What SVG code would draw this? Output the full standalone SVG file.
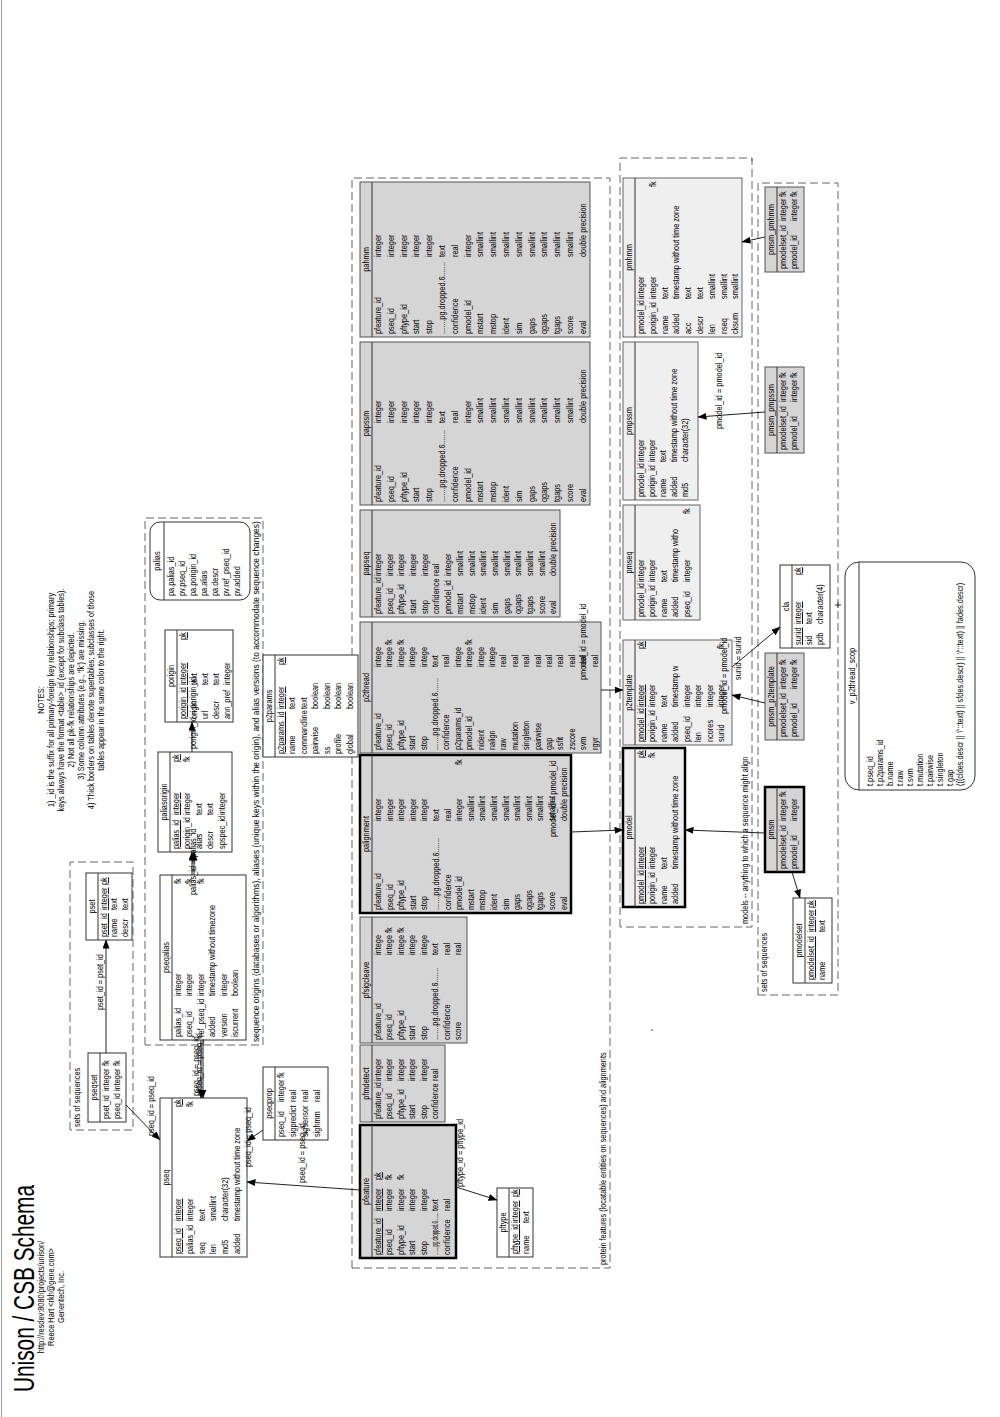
<svg xmlns="http://www.w3.org/2000/svg" width="1000" height="1417" viewBox="0 0 1000 1417">
<defs>
<marker id="ah" markerWidth="9" markerHeight="7" refX="8.5" refY="3.5" orient="auto" markerUnits="userSpaceOnUse"><path d="M0,0 L9,3.5 L0,7 z" fill="#000"/></marker>
<style>
.root{font-family:"Liberation Sans",Arial,sans-serif;font-size:9.2px;fill:#000}
.w{fill:#fff;stroke:#333;stroke-width:1}
.g{fill:#d5d5d5;stroke:#555;stroke-width:1}
.l{fill:#efefef;stroke:#666;stroke-width:1}
.k{stroke:#000;stroke-width:2.5}
.sep{stroke:#333;stroke-width:1}
.grp{fill:none;stroke:#666;stroke-width:1;stroke-dasharray:8 4}
.c{fill:none;stroke:#222;stroke-width:1;marker-end:url(#ah)}
.hd{text-anchor:middle}
.u{text-decoration:underline}
</style>
</defs>
<rect width="1000" height="1417" fill="#fff"/>
<line x1="1.5" y1="0" x2="1.5" y2="1417" stroke="#999"/>
<g class="root" transform="translate(0,1417) rotate(-90)">

<!-- title & notes -->
<g id="title">
<text x="25" y="34" font-size="29" textLength="207" lengthAdjust="spacingAndGlyphs">Unison / CSB Schema</text>
<g transform="scale(0.8,1)" class="hd">
<text x="150" y="44">http://resdev:8080/projects/unison/</text>
<text x="150" y="54">Reece Hart &lt;rkh@gene.com&gt;</text>
<text x="150" y="64">Genentech, Inc.</text>
</g>
</g>
<g id="notes" transform="scale(0.8,1)" class="hd">
<text x="896.25" y="44">NOTES:</text>
<text x="896.25" y="54">1) _id is the suffix for all primary-foreign key relationships; primary</text>
<text x="896.25" y="64">keys always have the format &lt;table&gt;_id (except for subclass tables).</text>
<text x="896.25" y="74">2) Not all pk-fk relationships are depicted.</text>
<text x="896.25" y="84">3) Some column attributes (e.g., 'fk') are missing.</text>
<text x="896.25" y="94">4) Thick borders on tables denote supertables; subclasses of those</text>
<text x="896.25" y="104">tables appear in the same color to the right.</text>
</g>

<!-- groups -->
<g id="groups">
<rect class="grp" x="287" y="70" width="268" height="63"/>
<rect class="grp" x="372" y="145" width="527" height="118"/>
<rect class="grp" x="149" y="352" width="1090" height="258"/>
<rect class="grp" x="490" y="620" width="769" height="132"/>
<rect class="grp" x="422" y="758" width="812" height="80"/>
<g transform="scale(0.8,1)">
<text x="362.5" y="80">sets of sequences</text>
<text x="468.75" y="259" textLength="651" lengthAdjust="spacingAndGlyphs">sequence origins (databases or algorithms), aliases (unique keys within the origin), and alias versions (to accommodate sequence changes)</text>
<text x="190" y="606">protein features (locatable entities on sequences) and alignments</text>
<text x="616.25" y="748">models -- anything to which a sequence might align</text>
<text x="531.25" y="767">sets of sequences</text>
</g>
<path d="M809,838 H815 M812,835 V841" stroke="#333" fill="none"/>
<circle cx="1257" cy="752" r="0.8" fill="#333"/>
<circle cx="387" cy="652" r="0.8" fill="#333"/>
</g>

<!-- tables -->
<g id="pseq" transform="translate(160,160)"><rect class="w" width="159" height="87"/><line class="sep" x1="0" y1="12" x2="159" y2="12"/><g transform="scale(0.8,1)">
<text class="hd" x="99.4" y="9.5">pseq</text>
<text y="21"><tspan x="3.75" class="u">pseq_id</tspan><tspan x="45" class="u">integer</tspan><tspan x="187.5" class="u">pk</tspan></text>
<text y="32.8"><tspan x="3.75">palias_id</tspan><tspan x="45">integer</tspan><tspan x="187.5">fk</tspan></text>
<text y="44.6"><tspan x="3.75">seq</tspan><tspan x="45">text</tspan></text>
<text y="56.4"><tspan x="3.75">len</tspan><tspan x="45">smallint</tspan></text>
<text y="68.2"><tspan x="3.75">md5</tspan><tspan x="45">character(32)</tspan></text>
<text y="80"><tspan x="3.75">added</tspan><tspan x="45">timestamp without time zone</tspan></text>
</g></g>

<g id="pseqprop" transform="translate(277,263)"><rect class="w" width="73" height="65"/><line class="sep" x1="0" y1="12" x2="73" y2="12"/><g transform="scale(0.8,1)">
<text class="hd" x="45.6" y="9.5">pseqprop</text>
<text y="21"><tspan x="3.75">pseq_id</tspan><tspan x="47.5">integer</tspan><tspan x="77.5">fk</tspan></text>
<text y="33"><tspan x="3.75">sigpredict</tspan><tspan x="47.5">real</tspan></text>
<text y="45"><tspan x="3.75">sigsensor</tspan><tspan x="47.5">real</tspan></text>
<text y="57"><tspan x="3.75">sighmm</tspan><tspan x="47.5">real</tspan></text>
</g></g>

<g id="pseqset" transform="translate(295,88)"><rect class="w" width="69" height="38"/><line class="sep" x1="0" y1="12" x2="69" y2="12"/><g transform="scale(0.8,1)">
<text class="hd" x="43.1" y="9.5">pseqset</text>
<text y="21"><tspan x="3.75">pset_id</tspan><tspan x="38.75">integer</tspan><tspan x="70">fk</tspan></text>
<text y="32.5"><tspan x="3.75">pseq_id</tspan><tspan x="38.75">integer</tspan><tspan x="70">fk</tspan></text>
</g></g>

<g id="pset" transform="translate(477,86)"><rect class="w" width="67" height="46"/><line class="sep" x1="0" y1="12" x2="67" y2="12"/><g transform="scale(0.8,1)">
<text class="hd" x="41.9" y="9.5">pset</text>
<text y="21"><tspan x="3.75" class="u">pset_id</tspan><tspan x="37.5" class="u">integer</tspan><tspan x="68.75" class="u">pk</tspan></text>
<text y="31.5"><tspan x="3.75">name</tspan><tspan x="37.5">text</tspan></text>
<text y="42"><tspan x="3.75">descr</tspan><tspan x="37.5">text</tspan></text>
</g></g>

<g id="pseqalias" transform="translate(377,160)"><rect class="w" width="165" height="86"/><line class="sep" x1="0" y1="12" x2="165" y2="12"/><g transform="scale(0.8,1)">
<text class="hd" x="103.1" y="9.5">pseqalias</text>
<text y="21"><tspan x="3.75">palias_id</tspan><tspan x="55">integer</tspan><tspan x="195">fk</tspan></text>
<text y="32.5"><tspan x="3.75">pseq_id</tspan><tspan x="55">integer</tspan><tspan x="195">fk</tspan></text>
<text y="44"><tspan x="3.75">ref_pseq_id</tspan><tspan x="55">integer</tspan><tspan x="195">fk</tspan></text>
<text y="55.5"><tspan x="3.75">added</tspan><tspan x="55">timestamp without timezone</tspan></text>
<text y="67"><tspan x="3.75">version</tspan><tspan x="55">integer</tspan></text>
<text y="78.5"><tspan x="3.75">iscurrent</tspan><tspan x="55">boolean</tspan></text>
</g></g>

<g id="paliasorigin" transform="translate(565,158)"><rect class="w" width="100" height="74"/><line class="sep" x1="0" y1="12" x2="100" y2="12"/><g transform="scale(0.8,1)">
<text class="hd" x="62.5" y="9.5">paliasorigin</text>
<text y="21"><tspan x="3.75" class="u">palias_id</tspan><tspan x="46.25" class="u">integer</tspan><tspan x="112.5" class="u">pk</tspan></text>
<text y="32.5"><tspan x="3.75">porigin_id</tspan><tspan x="46.25">integer</tspan><tspan x="112.5">fk</tspan></text>
<text y="44"><tspan x="3.75">alias</tspan><tspan x="46.25">text</tspan></text>
<text y="55.5"><tspan x="3.75">descr</tspan><tspan x="46.25">text</tspan></text>
<text y="67"><tspan x="3.75">spspec_id</tspan><tspan x="46.25">integer</tspan></text>
</g></g>

<g id="porigin" transform="translate(695,165)"><rect class="w" width="92" height="68"/><line class="sep" x1="0" y1="12" x2="92" y2="12"/><g transform="scale(0.8,1)">
<text class="hd" x="57.5" y="9.5">porigin</text>
<text y="21"><tspan x="3.75" class="u">porigin_id</tspan><tspan x="46.25" class="u">integer</tspan><tspan x="102.5" class="u">pk</tspan></text>
<text y="32"><tspan x="3.75">origin</tspan><tspan x="46.25">text</tspan></text>
<text y="43"><tspan x="3.75">url</tspan><tspan x="46.25">text</tspan></text>
<text y="54"><tspan x="3.75">descr</tspan><tspan x="46.25">text</tspan></text>
<text y="65"><tspan x="3.75">ann_pref</tspan><tspan x="46.25">integer</tspan></text>
</g></g>

<g id="palias" transform="translate(817,150)"><rect class="w" width="78" height="100" rx="10"/><line class="sep" x1="0" y1="14" x2="78" y2="14"/><g transform="scale(0.8,1)">
<text class="hd" x="48.75" y="10.5">palias</text>
<text x="5" y="24">pa.palias_id</text>
<text x="5" y="35">pv.pseq_id</text>
<text x="5" y="46">pa.porigin_id</text>
<text x="5" y="57">pa.alias</text>
<text x="5" y="68">pa.descr</text>
<text x="5" y="79">pv.ref_pseq_id</text>
<text x="5" y="90">pv.added</text>
</g></g>

<g id="p2params" transform="translate(660,263)"><rect class="w" width="102" height="95"/><line class="sep" x1="0" y1="12" x2="102" y2="12"/><g transform="scale(0.8,1)">
<text class="hd" x="63.75" y="9.5">p2params</text>
<text y="21"><tspan x="3.75" class="u">p2params_id</tspan><tspan x="60" class="u">integer</tspan><tspan x="115" class="u">pk</tspan></text>
<text y="32.5"><tspan x="3.75">name</tspan><tspan x="60">text</tspan></text>
<text y="44"><tspan x="3.75">commandline</tspan><tspan x="60">text</tspan></text>
<text y="55.5"><tspan x="3.75">pairwise</tspan><tspan x="60">boolean</tspan></text>
<text y="67"><tspan x="3.75">ss</tspan><tspan x="60">boolean</tspan></text>
<text y="78.5"><tspan x="3.75">profile</tspan><tspan x="60">boolean</tspan></text>
<text y="90"><tspan x="3.75">global</tspan><tspan x="60">boolean</tspan></text>
</g></g>

<g id="pfeature" transform="translate(159,360)"><rect class="g k" width="133" height="96"/><line class="sep" x1="0" y1="12" x2="133" y2="12"/><g transform="scale(0.8,1)">
<text class="hd" x="83.1" y="9.5">pfeature</text>
<text y="21"><tspan x="3.75" class="u">pfeature_id</tspan><tspan x="58.75" class="u">integer</tspan><tspan x="97.5" class="u">pk</tspan></text>
<text y="32.5"><tspan x="3.75">pseq_id</tspan><tspan x="58.75">integer</tspan><tspan x="97.5">fk</tspan></text>
<text y="44"><tspan x="3.75">pftype_id</tspan><tspan x="58.75">integer</tspan><tspan x="97.5">fk</tspan></text>
<text y="55.5"><tspan x="3.75">start</tspan><tspan x="58.75">integer</tspan></text>
<text y="67"><tspan x="3.75">stop</tspan><tspan x="58.75">integer</tspan></text>
<text x="3.75" y="78.5" textLength="53" lengthAdjust="spacingAndGlyphs">.......pg.dropped.6.......</text><text x="58.75" y="78.5">text</text>
<text y="90"><tspan x="3.75">confidence</tspan><tspan x="58.75">real</tspan></text>
</g></g>

<g id="pftype" transform="translate(160,497)"><rect class="w" width="69" height="36"/><line class="sep" x1="0" y1="12" x2="69" y2="12"/><g transform="scale(0.8,1)">
<text class="hd" x="43.1" y="9.5">pftype</text>
<text y="21"><tspan x="3.75" class="u">pftype_id</tspan><tspan x="42.5" class="u">integer</tspan><tspan x="75" class="u">pk</tspan></text>
<text y="32"><tspan x="3.75">name</tspan><tspan x="42.5">text</tspan></text>
</g></g>

<g id="pfmdetect" transform="translate(295,360)"><rect class="g" width="77" height="85"/><line class="sep" x1="0" y1="12" x2="77" y2="12"/><g transform="scale(0.8,1)">
<text class="hd" x="48.1" y="9.5">pfmdetect</text>
<text y="21"><tspan x="3.75">pfeature_id</tspan><tspan x="51.25">integer</tspan></text>
<text y="32.5"><tspan x="3.75">pseq_id</tspan><tspan x="51.25">integer</tspan></text>
<text y="44"><tspan x="3.75">pftype_id</tspan><tspan x="51.25">integer</tspan></text>
<text y="55.5"><tspan x="3.75">start</tspan><tspan x="51.25">integer</tspan></text>
<text y="67"><tspan x="3.75">stop</tspan><tspan x="51.25">integer</tspan></text>
<text y="78.5"><tspan x="3.75">confidence</tspan><tspan x="51.25">real</tspan></text>
</g></g>

<g id="pfsigcleave" transform="translate(374,360)"><rect class="g" width="126" height="107"/><line class="sep" x1="0" y1="12" x2="126" y2="12"/><g transform="scale(0.8,1)">
<text class="hd" x="78.75" y="9.5">pfsigcleave</text>
<text y="21"><tspan x="3.75">pfeature_id</tspan><tspan x="110">intege</tspan></text>
<text y="32.5"><tspan x="3.75">pseq_id</tspan><tspan x="110">intege</tspan><tspan x="137.5">fk</tspan></text>
<text y="44"><tspan x="3.75">pftype_id</tspan><tspan x="110">intege</tspan><tspan x="137.5">fk</tspan></text>
<text y="55.5"><tspan x="3.75">start</tspan><tspan x="110">intege</tspan></text>
<text y="67"><tspan x="3.75">stop</tspan><tspan x="110">intege</tspan></text>
<text y="78.5"><tspan x="3.75">.......pg.dropped.6.......</tspan><tspan x="110">text</tspan></text>
<text y="90"><tspan x="3.75">confidence</tspan><tspan x="110">real</tspan></text>
<text y="101.5"><tspan x="3.75">score</tspan><tspan x="110">real</tspan></text>
</g></g>

<g id="palignment" transform="translate(504,360)"><rect class="g k" width="158" height="211"/><line class="sep" x1="0" y1="12" x2="158" y2="12"/><g transform="scale(0.8,1)">
<text class="hd" x="98.75" y="9.5">palignment</text>
<text y="21"><tspan x="3.75">pfeature_id</tspan><tspan x="115">integer</tspan></text>
<text y="32.6"><tspan x="3.75">pseq_id</tspan><tspan x="115">integer</tspan></text>
<text y="44.2"><tspan x="3.75">pftype_id</tspan><tspan x="115">integer</tspan></text>
<text y="55.8"><tspan x="3.75">start</tspan><tspan x="115">integer</tspan></text>
<text y="67.4"><tspan x="3.75">stop</tspan><tspan x="115">integer</tspan></text>
<text y="79"><tspan x="3.75">.......pg.dropped.6.......</tspan><tspan x="115">text</tspan></text>
<text y="90.6"><tspan x="3.75">confidence</tspan><tspan x="115">real</tspan></text>
<text y="102.2"><tspan x="3.75">pmodel_id</tspan><tspan x="115">integer</tspan><tspan x="185">fk</tspan></text>
<text y="113.8"><tspan x="3.75">mstart</tspan><tspan x="115">smallint</tspan></text>
<text y="125.4"><tspan x="3.75">mstop</tspan><tspan x="115">smallint</tspan></text>
<text y="137"><tspan x="3.75">ident</tspan><tspan x="115">smallint</tspan></text>
<text y="148.6"><tspan x="3.75">sim</tspan><tspan x="115">smallint</tspan></text>
<text y="160.2"><tspan x="3.75">gaps</tspan><tspan x="115">smallint</tspan></text>
<text y="171.8"><tspan x="3.75">qgaps</tspan><tspan x="115">smallint</tspan></text>
<text y="183.4"><tspan x="3.75">tgaps</tspan><tspan x="115">smallint</tspan></text>
<text y="195"><tspan x="3.75">score</tspan><tspan x="115">smallint</tspan></text>
<text y="206.6"><tspan x="3.75">eval</tspan><tspan x="115">double precision</tspan></text>
</g></g>

<g id="p2thread" transform="translate(664,360)"><rect class="g" width="131" height="241"/><line class="sep" x1="0" y1="12" x2="131" y2="12"/><g transform="scale(0.8,1)">
<text class="hd" x="81.9" y="9.5">p2thread</text>
<text y="21"><tspan x="3.75">pfeature_id</tspan><tspan x="107.5">intege</tspan></text>
<text y="32.4"><tspan x="3.75">pseq_id</tspan><tspan x="107.5">intege</tspan><tspan x="135">fk</tspan></text>
<text y="43.8"><tspan x="3.75">pftype_id</tspan><tspan x="107.5">intege</tspan><tspan x="135">fk</tspan></text>
<text y="55.2"><tspan x="3.75">start</tspan><tspan x="107.5">intege</tspan></text>
<text y="66.6"><tspan x="3.75">stop</tspan><tspan x="107.5">intege</tspan></text>
<text y="78"><tspan x="3.75">.......pg.dropped.6.......</tspan><tspan x="107.5">text</tspan></text>
<text y="89.4"><tspan x="3.75">confidence</tspan><tspan x="107.5">real</tspan></text>
<text y="100.8"><tspan x="3.75">p2params_id</tspan><tspan x="107.5">intege</tspan></text>
<text y="112.2"><tspan x="3.75">pmodel_id</tspan><tspan x="107.5">intege</tspan><tspan x="135">fk</tspan></text>
<text y="123.6"><tspan x="3.75">nident</tspan><tspan x="107.5">intege</tspan></text>
<text y="135"><tspan x="3.75">nalign</tspan><tspan x="107.5">intege</tspan></text>
<text y="146.4"><tspan x="3.75">raw</tspan><tspan x="107.5">real</tspan></text>
<text y="157.8"><tspan x="3.75">mutation</tspan><tspan x="107.5">real</tspan></text>
<text y="169.2"><tspan x="3.75">singleton</tspan><tspan x="107.5">real</tspan></text>
<text y="180.6"><tspan x="3.75">pairwise</tspan><tspan x="107.5">real</tspan></text>
<text y="192"><tspan x="3.75">gap</tspan><tspan x="107.5">real</tspan></text>
<text y="203.4"><tspan x="3.75">ssfit</tspan><tspan x="107.5">real</tspan></text>
<text y="214.8"><tspan x="3.75">zscore</tspan><tspan x="107.5">real</tspan></text>
<text y="226.2"><tspan x="3.75">svm</tspan><tspan x="107.5">real</tspan></text>
<text y="237.6"><tspan x="3.75">rgyr</tspan><tspan x="107.5">real</tspan></text>
</g></g>

<g id="papseq" transform="translate(800,360)"><rect class="g" width="107" height="200"/><line class="sep" x1="0" y1="12" x2="107" y2="12"/><g transform="scale(0.8,1)">
<text class="hd" x="66.9" y="9.5">papseq</text>
<text y="21"><tspan x="3.75">pfeature_id</tspan><tspan x="51.25">integer</tspan></text>
<text y="32.7"><tspan x="3.75">pseq_id</tspan><tspan x="51.25">integer</tspan></text>
<text y="44.4"><tspan x="3.75">pftype_id</tspan><tspan x="51.25">integer</tspan></text>
<text y="56.1"><tspan x="3.75">start</tspan><tspan x="51.25">integer</tspan></text>
<text y="67.8"><tspan x="3.75">stop</tspan><tspan x="51.25">integer</tspan></text>
<text y="79.5"><tspan x="3.75">confidence</tspan><tspan x="51.25">real</tspan></text>
<text y="91.2"><tspan x="3.75">pmodel_id</tspan><tspan x="51.25">integer</tspan></text>
<text y="102.9"><tspan x="3.75">mstart</tspan><tspan x="51.25">smallint</tspan></text>
<text y="114.6"><tspan x="3.75">mstop</tspan><tspan x="51.25">smallint</tspan></text>
<text y="126.3"><tspan x="3.75">ident</tspan><tspan x="51.25">smallint</tspan></text>
<text y="138"><tspan x="3.75">sim</tspan><tspan x="51.25">smallint</tspan></text>
<text y="149.7"><tspan x="3.75">gaps</tspan><tspan x="51.25">smallint</tspan></text>
<text y="161.4"><tspan x="3.75">qgaps</tspan><tspan x="51.25">smallint</tspan></text>
<text y="173.1"><tspan x="3.75">tgaps</tspan><tspan x="51.25">smallint</tspan></text>
<text y="184.8"><tspan x="3.75">score</tspan><tspan x="51.25">smallint</tspan></text>
<text y="196.5"><tspan x="3.75">eval</tspan><tspan x="51.25">double precision</tspan></text>
</g></g>

<g id="papssm" transform="translate(912,360)"><rect class="g" width="163" height="230"/><line class="sep" x1="0" y1="12" x2="163" y2="12"/><g transform="scale(0.8,1)">
<text class="hd" x="101.9" y="9.5">papssm</text>
<text y="21"><tspan x="3.75">pfeature_id</tspan><tspan x="102.5">integer</tspan></text>
<text y="33.8"><tspan x="3.75">pseq_id</tspan><tspan x="102.5">integer</tspan></text>
<text y="46.6"><tspan x="3.75">pftype_id</tspan><tspan x="102.5">integer</tspan></text>
<text y="59.4"><tspan x="3.75">start</tspan><tspan x="102.5">integer</tspan></text>
<text y="72.2"><tspan x="3.75">stop</tspan><tspan x="102.5">integer</tspan></text>
<text y="85"><tspan x="3.75">.......pg.dropped.6.......</tspan><tspan x="102.5">text</tspan></text>
<text y="97.8"><tspan x="3.75">confidence</tspan><tspan x="102.5">real</tspan></text>
<text y="110.6"><tspan x="3.75">pmodel_id</tspan><tspan x="102.5">integer</tspan></text>
<text y="123.4"><tspan x="3.75">mstart</tspan><tspan x="102.5">smallint</tspan></text>
<text y="136.2"><tspan x="3.75">mstop</tspan><tspan x="102.5">smallint</tspan></text>
<text y="149"><tspan x="3.75">ident</tspan><tspan x="102.5">smallint</tspan></text>
<text y="161.8"><tspan x="3.75">sim</tspan><tspan x="102.5">smallint</tspan></text>
<text y="174.6"><tspan x="3.75">gaps</tspan><tspan x="102.5">smallint</tspan></text>
<text y="187.4"><tspan x="3.75">qgaps</tspan><tspan x="102.5">smallint</tspan></text>
<text y="200.2"><tspan x="3.75">tgaps</tspan><tspan x="102.5">smallint</tspan></text>
<text y="213"><tspan x="3.75">score</tspan><tspan x="102.5">smallint</tspan></text>
<text y="225.8"><tspan x="3.75">eval</tspan><tspan x="102.5">double precision</tspan></text>
</g></g>

<g id="pahmm" transform="translate(1080,360)"><rect class="g" width="155" height="230"/><line class="sep" x1="0" y1="12" x2="155" y2="12"/><g transform="scale(0.8,1)">
<text class="hd" x="96.9" y="9.5">pahmm</text>
<text y="21"><tspan x="3.75">pfeature_id</tspan><tspan x="100">integer</tspan></text>
<text y="33.8"><tspan x="3.75">pseq_id</tspan><tspan x="100">integer</tspan></text>
<text y="46.6"><tspan x="3.75">pftype_id</tspan><tspan x="100">integer</tspan></text>
<text y="59.4"><tspan x="3.75">start</tspan><tspan x="100">integer</tspan></text>
<text y="72.2"><tspan x="3.75">stop</tspan><tspan x="100">integer</tspan></text>
<text y="85"><tspan x="3.75">.......pg.dropped.6.......</tspan><tspan x="100">text</tspan></text>
<text y="97.8"><tspan x="3.75">confidence</tspan><tspan x="100">real</tspan></text>
<text y="110.6"><tspan x="3.75">pmodel_id</tspan><tspan x="100">integer</tspan></text>
<text y="123.4"><tspan x="3.75">mstart</tspan><tspan x="100">smallint</tspan></text>
<text y="136.2"><tspan x="3.75">mstop</tspan><tspan x="100">smallint</tspan></text>
<text y="149"><tspan x="3.75">ident</tspan><tspan x="100">smallint</tspan></text>
<text y="161.8"><tspan x="3.75">sim</tspan><tspan x="100">smallint</tspan></text>
<text y="174.6"><tspan x="3.75">gaps</tspan><tspan x="100">smallint</tspan></text>
<text y="187.4"><tspan x="3.75">qgaps</tspan><tspan x="100">smallint</tspan></text>
<text y="200.2"><tspan x="3.75">tgaps</tspan><tspan x="100">smallint</tspan></text>
<text y="213"><tspan x="3.75">score</tspan><tspan x="100">smallint</tspan></text>
<text y="225.8"><tspan x="3.75">eval</tspan><tspan x="100">double precision</tspan></text>
</g></g>

<g id="pmhmm" transform="translate(1080,623)"><rect class="l" width="159" height="119"/><line class="sep" x1="0" y1="12" x2="159" y2="12"/><g transform="scale(0.8,1)">
<text class="hd" x="99.4" y="9.5">pmhmm</text>
<text y="21"><tspan x="3.75">pmodel_id</tspan><tspan x="47.5">integer</tspan></text>
<text y="32.8"><tspan x="3.75">porigin_id</tspan><tspan x="47.5">integer</tspan><tspan x="187.5">fk</tspan></text>
<text y="44.6"><tspan x="3.75">name</tspan><tspan x="47.5">text</tspan></text>
<text y="56.4"><tspan x="3.75">added</tspan><tspan x="47.5">timestamp without time zone</tspan></text>
<text y="68.2"><tspan x="3.75">acc</tspan><tspan x="47.5">text</tspan></text>
<text y="80"><tspan x="3.75">descr</tspan><tspan x="47.5">text</tspan></text>
<text y="91.8"><tspan x="3.75">len</tspan><tspan x="47.5">smallint</tspan></text>
<text y="103.6"><tspan x="3.75">nseq</tspan><tspan x="47.5">smallint</tspan></text>
<text y="115.4"><tspan x="3.75">cksum</tspan><tspan x="47.5">smallint</tspan></text>
</g></g>

<g id="pmpssm" transform="translate(917,623)"><rect class="l" width="158" height="75"/><line class="sep" x1="0" y1="12" x2="158" y2="12"/><g transform="scale(0.8,1)">
<text class="hd" x="98.75" y="9.5">pmpssm</text>
<text y="21"><tspan x="3.75">pmodel_id</tspan><tspan x="47.5">integer</tspan></text>
<text y="32"><tspan x="3.75">porigin_id</tspan><tspan x="47.5">integer</tspan></text>
<text y="43"><tspan x="3.75">name</tspan><tspan x="47.5">text</tspan></text>
<text y="54"><tspan x="3.75">added</tspan><tspan x="47.5">timestamp without time zone</tspan></text>
<text y="65"><tspan x="3.75">md5</tspan><tspan x="47.5">character(32)</tspan></text>
</g></g>

<g id="pmseq" transform="translate(797,623)"><rect class="l" width="115" height="77"/><line class="sep" x1="0" y1="12" x2="115" y2="12"/><g transform="scale(0.8,1)">
<text class="hd" x="71.9" y="9.5">pmseq</text>
<text y="21"><tspan x="3.75">pmodel_id</tspan><tspan x="47.5">integer</tspan></text>
<text y="32.5"><tspan x="3.75">porigin_id</tspan><tspan x="47.5">integer</tspan></text>
<text y="44"><tspan x="3.75">name</tspan><tspan x="47.5">text</tspan></text>
<text y="55.5"><tspan x="3.75">added</tspan><tspan x="47.5">timestamp witho</tspan></text>
<text y="67"><tspan x="3.75">pseq_id</tspan><tspan x="47.5">integer</tspan><tspan x="132.5">fk</tspan></text>
</g></g>

<g id="p2template" transform="translate(672,623)"><rect class="l" width="105" height="109"/><line class="sep" x1="0" y1="12" x2="105" y2="12"/><g transform="scale(0.8,1)">
<text class="hd" x="65.6" y="9.5">p2template</text>
<text y="21"><tspan x="3.75" class="u">pmodel_id</tspan><tspan x="47.5" class="u">integer</tspan><tspan x="120" class="u">pk</tspan></text>
<text y="32.5"><tspan x="3.75">porigin_id</tspan><tspan x="47.5">integer</tspan></text>
<text y="44"><tspan x="3.75">name</tspan><tspan x="47.5">text</tspan></text>
<text y="55.5"><tspan x="3.75">added</tspan><tspan x="47.5">timestamp w</tspan></text>
<text y="67"><tspan x="3.75">pseq_id</tspan><tspan x="47.5">integer</tspan></text>
<text y="78.5"><tspan x="3.75">len</tspan><tspan x="47.5">integer</tspan></text>
<text y="90"><tspan x="3.75">ncores</tspan><tspan x="47.5">integer</tspan></text>
<text y="101.5"><tspan x="3.75">sunid</tspan><tspan x="47.5">integer</tspan><tspan x="120">fk</tspan></text>
</g></g>

<g id="pmodel" transform="translate(510,623)"><rect class="l k" width="159" height="62"/><line class="sep" x1="0" y1="12" x2="159" y2="12"/><g transform="scale(0.8,1)">
<text class="hd" x="99.4" y="9.5">pmodel</text>
<text y="21"><tspan x="3.75" class="u">pmodel_id</tspan><tspan x="47.5" class="u">integer</tspan><tspan x="186.25" class="u">pk</tspan></text>
<text y="32.5"><tspan x="3.75">porigin_id</tspan><tspan x="47.5">integer</tspan><tspan x="186.25">fk</tspan></text>
<text y="44"><tspan x="3.75">name</tspan><tspan x="47.5">text</tspan></text>
<text y="55.5"><tspan x="3.75">added</tspan><tspan x="47.5">timestamp without time zone</tspan></text>
</g></g>

<g id="pmsm_pmhmm" transform="translate(1145,765)"><rect class="g" width="85" height="39"/><line class="sep" x1="0" y1="12" x2="85" y2="12"/><g transform="scale(0.8,1)">
<text class="hd" x="53.1" y="9.5">pmsm_pmhmm</text>
<text y="21"><tspan x="3.75">pmodelset_id</tspan><tspan x="63.75">integer</tspan><tspan x="93.75">fk</tspan></text>
<text y="32.5"><tspan x="3.75">pmodel_id</tspan><tspan x="63.75">integer</tspan><tspan x="93.75">fk</tspan></text>
</g></g>

<g id="pmsm_pmpssm" transform="translate(964,765)"><rect class="g" width="86" height="39"/><line class="sep" x1="0" y1="12" x2="86" y2="12"/><g transform="scale(0.8,1)">
<text class="hd" x="53.75" y="9.5">pmsm_pmpssm</text>
<text y="21"><tspan x="3.75">pmodelset_id</tspan><tspan x="63.75">integer</tspan><tspan x="93.75">fk</tspan></text>
<text y="32.5"><tspan x="3.75">pmodel_id</tspan><tspan x="63.75">integer</tspan><tspan x="93.75">fk</tspan></text>
</g></g>

<g id="pmsm_p2template" transform="translate(677,765)"><rect class="g" width="87" height="39"/><line class="sep" x1="0" y1="12" x2="87" y2="12"/><g transform="scale(0.8,1)">
<text class="hd" x="54.4" y="9.5">pmsm_p2template</text>
<text y="21"><tspan x="3.75">pmodelset_id</tspan><tspan x="63.75">integer</tspan><tspan x="93.75">fk</tspan></text>
<text y="32.5"><tspan x="3.75">pmodel_id</tspan><tspan x="63.75">integer</tspan><tspan x="93.75">fk</tspan></text>
</g></g>

<g id="pmsm" transform="translate(545,765)"><rect class="g k" width="85" height="39"/><line class="sep" x1="0" y1="12" x2="85" y2="12"/><g transform="scale(0.8,1)">
<text class="hd" x="53.1" y="9.5">pmsm</text>
<text y="21"><tspan x="3.75">pmodelset_id</tspan><tspan x="63.75">integer</tspan><tspan x="93.75">fk</tspan></text>
<text y="32.5"><tspan x="3.75">pmodel_id</tspan><tspan x="63.75">integer</tspan></text>
</g></g>

<g id="pmodelset" transform="translate(434,793)"><rect class="w" width="85" height="39"/><line class="sep" x1="0" y1="12" x2="85" y2="12"/><g transform="scale(0.8,1)">
<text class="hd" x="53.1" y="9.5">pmodelset</text>
<text y="21"><tspan x="3.75" class="u">pmodelset_id</tspan><tspan x="63.75" class="u">integer</tspan><tspan x="93.75" class="u">pk</tspan></text>
<text y="32.5"><tspan x="3.75">name</tspan><tspan x="63.75">text</tspan></text>
</g></g>

<g id="cla" transform="translate(769,780)"><rect class="w" width="83" height="50"/><line class="sep" x1="0" y1="12" x2="83" y2="12"/><g transform="scale(0.8,1)">
<text class="hd" x="51.9" y="9.5">cla</text>
<text y="21"><tspan x="3.75" class="u">sunid</tspan><tspan x="30" class="u">integer</tspan><tspan x="91.25" class="u">pk</tspan></text>
<text y="32"><tspan x="3.75">sid</tspan><tspan x="30">text</tspan></text>
<text y="43"><tspan x="3.75">pdb</tspan><tspan x="30">character(4)</tspan></text>
</g></g>

<g id="v_p2thread_scop" transform="translate(627,845)"><rect class="w" width="228" height="130" rx="14"/><line class="sep" x1="0" y1="14" x2="228" y2="14"/><g transform="scale(0.8,1)">
<text class="hd" x="142.5" y="10.5">v_p2thread_scop</text>
<text x="5" y="28">t.pseq_id</text>
<text x="5" y="38">t.p2params_id</text>
<text x="5" y="48">b.name</text>
<text x="5" y="58">t.raw</text>
<text x="5" y="68">t.svm</text>
<text x="5" y="78">t.mutation</text>
<text x="5" y="88">t.pairwise</text>
<text x="5" y="98">t.singleton</text>
<text x="5" y="108">t.gap</text>
<text x="5" y="118">(((cldes.descr || '/'::text) || sfdes.descr) || '/'::text) || fades.descr)</text>
</g></g>

<!-- connectors -->
<g id="connectors">
<path class="c" d="M364,106 L477,106"/>
<path class="c" d="M312,126 L277,160"/>
<path class="c" d="M377,201 L319,201"/>
<path class="c" d="M377,203 L319,203"/>
<path class="c" d="M287,263 L276,247"/>
<path class="c" d="M227,360 L235,247"/>
<path class="c" d="M230,456 L217,497"/>
<path class="c" d="M542,192 L565,192"/>
<path class="c" d="M542,194 L565,194"/>
<path class="c" d="M665,192 L695,192"/>
<path class="c" d="M727,601 L727,623"/>
<path class="c" d="M585,571 L587,623"/>
<path class="c" d="M1180,765 L1175,742"/>
<path class="c" d="M1005,765 L1000,698"/>
<path class="c" d="M714,765 L722,732"/>
<path class="c" d="M750,732 L790,780"/>
<path class="c" d="M584,765 L587,685"/>
<path class="c" d="M545,792 L519,800"/>
<g transform="scale(0.8,1)">
<text x="508.75" y="103">pset_id = pset_id</text>
<text x="351.25" y="154">pseq_id = pseq_id</text>
<text x="401.25" y="199">pseq_id = pseq_id</text>
<text x="405" y="202">pseq_id = pseq_id</text>
<text x="312.5" y="251">pseq_id = pseq_id</text>
<text x="292.5" y="305">pseq_id = pseq_id</text>
<text x="287.5" y="463">pftype_id = pftype_id</text>
<text x="652.5" y="196">palias_id = palias_id</text>
<text x="835" y="196">porigin_id = porigin_id</text>
<text x="921.25" y="586">pmodel_id = pmodel_id</text>
<text x="725" y="556">pmodel_id = pmodel_id</text>
<text x="1235" y="722">pmodel_id = pmodel_id</text>
<text x="878.75" y="727">pmodel_id = pmodel_id</text>
<text x="921.25" y="741">sunid = sunid</text>
</g>
</g>

</g>
</svg>
